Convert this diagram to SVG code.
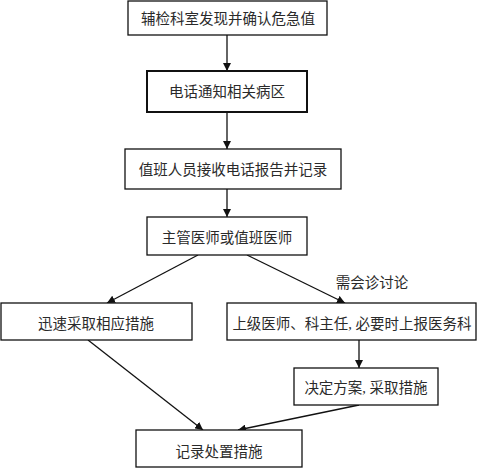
<svg xmlns="http://www.w3.org/2000/svg" width="479" height="468" viewBox="0 0 479 468">
<style>
.box{fill:#fff;stroke:#111;stroke-width:1.3}
.t{font-family:"Liberation Serif","Noto Sans CJK SC",serif;font-size:14.5px;fill:#2a2a2a;text-anchor:middle}
.c{stroke:#111;stroke-width:1.3;fill:none;marker-end:url(#ah)}
</style>
<defs>
<marker id="ah" viewBox="0 0 10 10" refX="10" refY="5" markerWidth="8" markerHeight="8" markerUnits="userSpaceOnUse" orient="auto">
<path d="M0,0 L10,5 L0,10 z" fill="#111"/>
</marker>
</defs>
<rect width="479" height="468" fill="#fff"/>
<g id="connectors">
<line class="c" x1="227" y1="35" x2="227" y2="71"/>
<line class="c" x1="227" y1="112" x2="227" y2="149"/>
<line class="c" x1="227" y1="189" x2="227" y2="217"/>
<line class="c" x1="198" y1="255" x2="107" y2="303"/>
<line class="c" x1="247" y1="255" x2="345" y2="303"/>
<line class="c" x1="359" y1="340" x2="359" y2="368"/>
<line class="c" x1="88" y1="340" x2="203" y2="430"/>
<line class="c" x1="359" y1="405" x2="238" y2="430"/>
<text class="t" x="372" y="288">需会诊讨论</text>
</g>
<g id="n1"><rect class="box" x="128" y="1" width="199" height="34"/><text class="t" x="228" y="24">辅检科室发现并确认危急值</text></g>
<g id="n2"><rect class="box" x="147" y="71" width="160" height="41" style="stroke-width:2"/><text class="t" x="227" y="97">电话通知相关病区</text></g>
<g id="n3"><rect class="box" x="125" y="149" width="216" height="40"/><text class="t" x="233" y="175">值班人员接收电话报告并记录</text></g>
<g id="n4"><rect class="box" x="147" y="217" width="160" height="38"/><text class="t" x="227" y="243">主管医师或值班医师</text></g>
<g id="n5"><rect class="box" x="1" y="303" width="191" height="37"/><text class="t" x="96" y="329">迅速采取相应措施</text></g>
<g id="n6"><rect class="box" x="227" y="303" width="249" height="37"/><text class="t" x="352" y="329">上级医师、科主任, 必要时上报医务科</text></g>
<g id="n7"><rect class="box" x="294" y="368" width="144" height="37"/><text class="t" x="366" y="393">决定方案, 采取措施</text></g>
<g id="n8"><rect class="box" x="136" y="430" width="166" height="37"/><text class="t" x="219" y="457">记录处置措施</text></g>
</svg>
